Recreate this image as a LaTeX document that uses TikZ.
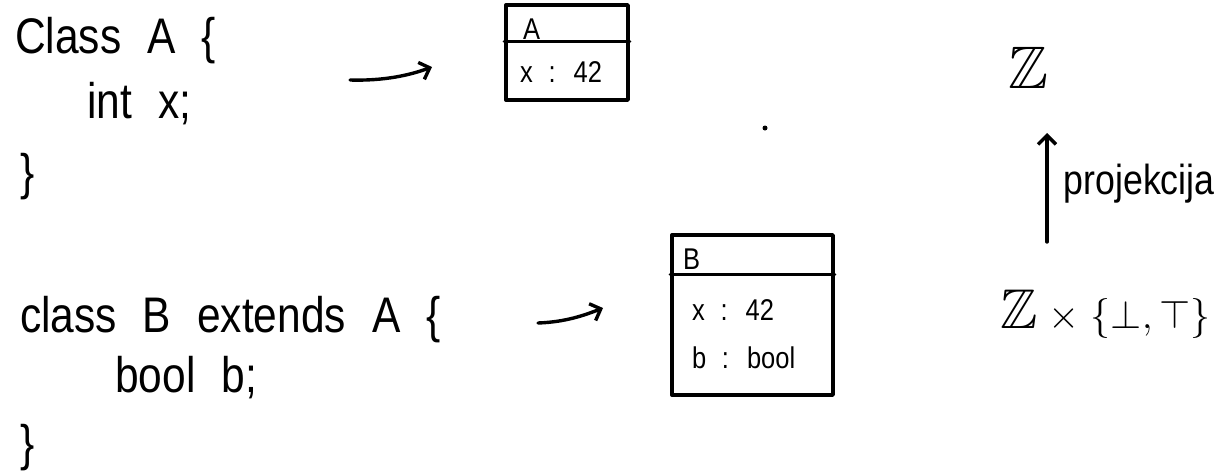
\RequirePackage{fix-cm}
\documentclass[tikz,border=0pt]{standalone}
\usepackage{fontspec}
\usepackage{amssymb}
\usetikzlibrary{arrows.meta}
\newfontfamily\handfont{Liberation Sans}[FakeStretch=0.85,WordSpace=2.2]

\begin{document}
\begin{tikzpicture}[x=1pt,y=-1pt,
 every node/.style={inner sep=0pt,text=black},
 code/.style={anchor=base west,font=\handfont\fontsize{50}{60}\selectfont},
 field/.style={anchor=base west,font=\handfont\fontsize{30}{36}\selectfont},
 lbl/.style={font=\handfont\fontsize{42}{50}\selectfont},
 pen/.style={line width=3.4pt,line cap=round,line join=round},
 arrow/.style={pen,-{Straight Barb[length=9pt,width=18pt]}},
 objbox/.style={pen,draw,rectangle}]
 \path[use as bounding box] (0,0) rectangle (1228,472);
 % source code of the two classes
 \node[code] (clsA) at (15,53) {Class A \{};
 \node[code] (intx) at (87,118) {int x;};
 \node[code] (endA) at (20,189) {\}};
 \node[code] (clsB) at (20,332) {class B extends A \{};
 \node[code] (boolb) at (115,392) {bool b;};
 \node[code] (endB) at (20,460) {\}};
 % object layouts
 \node[objbox,minimum width=122,minimum height=95] (boxA) at (567,52.5) {};
 \draw[pen] ([yshift=-38]boxA.north west) -- ([yshift=-38]boxA.north east);
 \node[field] (hdrA) at (523,39) {A};
 \node[field] (valA) at (520,82) {x : 42};
 \node[objbox,minimum width=161,minimum height=160] (boxB) at (752.5,315) {};
 \draw[pen] ([yshift=-41]boxB.north west) -- ([yshift=-41]boxB.north east);
 \node[field] (hdrB) at (683,269) {B};
 \node[field] (valB) at (692,320) {x : 42};
 \node[field] (valBb) at (692,368) {b : bool};
 \coordinate (arrA1) at (350,80);
 \coordinate (arrA2) at (432,67);
 \draw[arrow] (arrA1) .. controls +(35,1) and +(-22,8) .. (arrA2);
 \coordinate (arrB1) at (538,323);
 \coordinate (arrB2) at (603,308);
 \draw[arrow] (arrB1) .. controls +(28,-1) and +(-18,7) .. (arrB2);
 \fill (765,128) circle[radius=2.5];
 % sets and the projection
 \node[font=\fontsize{60}{70}\selectfont] (ztop) at (1028,68) {$\mathbb{Z}$};
 \node[anchor=base west,font=\fontsize{40}{48}\selectfont] (zprod) at (1000,328)
      {{\fontsize{56}{64}\selectfont$\mathbb{Z}$}$\;\times\;\{\bot,\top\}$};
 \coordinate (pbot) at (1047,242);
 \coordinate (ptop) at (1047,133);
 \draw[arrow] (pbot) -- node[lbl,anchor=west,pos=.54,xshift=15] (proj) {projekcija} (ptop);
\end{tikzpicture}
\end{document}
